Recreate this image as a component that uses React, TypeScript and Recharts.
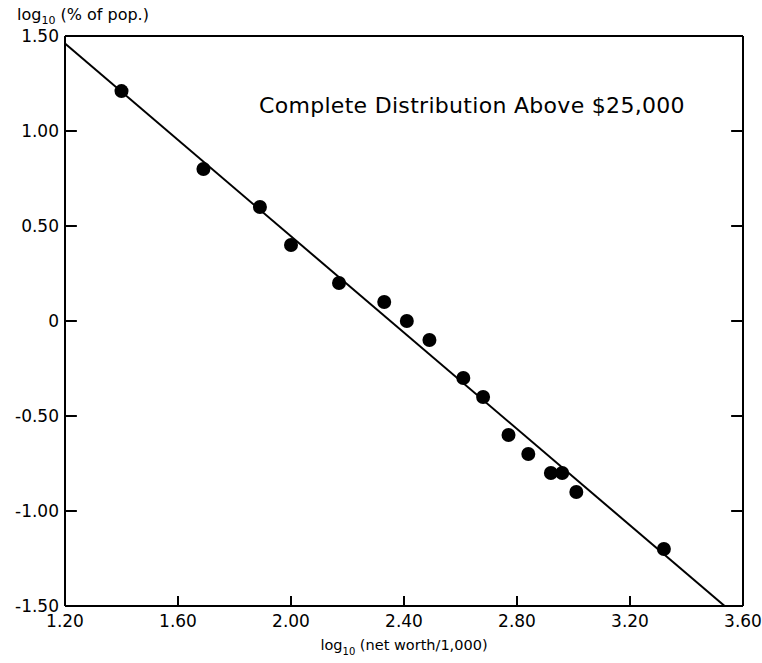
import { ScatterChart, Scatter, XAxis, YAxis, ReferenceLine, Label } from "recharts";

// log10(net worth / 1,000)
const netWorthLog = [1.4, 1.69, 1.89, 2.0, 2.17, 2.33, 2.41, 2.49, 2.61, 2.68, 2.77, 2.84, 2.92, 2.96, 3.01, 3.32];
// log10(% of population)
const popShareLog = [1.21, 0.8, 0.6, 0.4, 0.2, 0.1, 0, -0.1, -0.3, -0.4, -0.6, -0.7, -0.8, -0.8, -0.9, -1.2];

// fitted straight line end points
const fitX = [1.2, 3.535];
const fitY = [1.46, -1.5];

const xTicks = [1.2, 1.6, 2.0, 2.4, 2.8, 3.2, 3.6];
const yTicks = [-1.5, -1.0, -0.5, 0, 0.5, 1.0, 1.5];

const points = netWorthLog.map((x, i) => ({ x, y: popShareLog[i] }));
const FONT = "'DejaVu Sans', sans-serif";

// inward tick lengths, in axis units
const X_TICK_LEN = 0.053;
const Y_TICK_LEN = 0.042;

const fmt = (v: number) => (v === 0 ? "0" : v.toFixed(2));

const Dot = (p: any) => <circle cx={p.cx} cy={p.cy} r={7} fill="#000" />;

const innerX = xTicks.slice(1, -1);
const innerY = yTicks.slice(1, -1);

const tickStyle = { fill: "#000", fontSize: 17, fontFamily: FONT };

export default function App() {
  return (
    <div style={{ position: "absolute", left: 0, top: 0, background: "#fff" }}>
      <ScatterChart width={762} height={663} margin={{ top: 36, right: 0, bottom: 0, left: 0 }}>
        <XAxis
          type="number"
          dataKey="x"
          domain={[1.2, 3.6]}
          ticks={xTicks}
          tickFormatter={fmt}
          height={57}
          tickSize={0}
          tickMargin={9}
          tickLine={false}
          stroke="#000"
          strokeWidth={2}
          tick={tickStyle}
          allowDataOverflow
        >
          <Label
            content={() => (
              <text x={404} y={650} textAnchor="middle" fontSize={14.5} fontFamily={FONT} fill="#000">
                log<tspan fontSize={10} dy={5}>10</tspan>
                <tspan dy={-5}> (net worth/1,000)</tspan>
              </text>
            )}
          />
        </XAxis>
        <YAxis
          type="number"
          dataKey="y"
          domain={[-1.5, 1.5]}
          ticks={yTicks}
          tickFormatter={fmt}
          width={65}
          tickSize={0}
          tickMargin={6}
          tickLine={false}
          stroke="#000"
          strokeWidth={2}
          tick={tickStyle}
          allowDataOverflow
        >
          <Label
            content={() => (
              <g>
                <text x={17} y={20} fontSize={16} fontFamily={FONT} fill="#000">
                  log<tspan fontSize={11} dy={4}>10</tspan>
                  <tspan dy={-4}> (% of pop.)</tspan>
                </text>
                <text x={259} y={113} fontSize={22} letterSpacing={0.3} fontFamily={FONT} fill="#000">
                  Complete Distribution Above $25,000
                </text>
              </g>
            )}
          />
        </YAxis>
        <YAxis
          yAxisId="right"
          orientation="right"
          type="number"
          dataKey="y"
          domain={[-1.5, 1.5]}
          ticks={yTicks}
          width={19}
          tickLine={false}
          stroke="#000"
          strokeWidth={2}
          tick={false}
        />
        <ReferenceLine y={1.5} stroke="#000" strokeWidth={2} />
        {innerX.map((v) => (
          <ReferenceLine
            key={`xt${v}`}
            segment={[
              { x: v, y: -1.5 },
              { x: v, y: -1.5 + X_TICK_LEN },
            ]}
            stroke="#000"
            strokeWidth={2}
          />
        ))}
        {innerY.map((v) => (
          <ReferenceLine
            key={`yl${v}`}
            segment={[
              { x: 1.2, y: v },
              { x: 1.2 + Y_TICK_LEN, y: v },
            ]}
            stroke="#000"
            strokeWidth={2}
          />
        ))}
        {innerY.map((v) => (
          <ReferenceLine
            key={`yr${v}`}
            segment={[
              { x: 3.6 - Y_TICK_LEN, y: v },
              { x: 3.6, y: v },
            ]}
            stroke="#000"
            strokeWidth={2}
          />
        ))}
        <ReferenceLine
          segment={[
            { x: fitX[0], y: fitY[0] },
            { x: fitX[1], y: fitY[1] },
          ]}
          stroke="#000"
          strokeWidth={2}
          ifOverflow="visible"
        />
        <Scatter data={points} shape={Dot} isAnimationActive={false} />
      </ScatterChart>
    </div>
  );
}
